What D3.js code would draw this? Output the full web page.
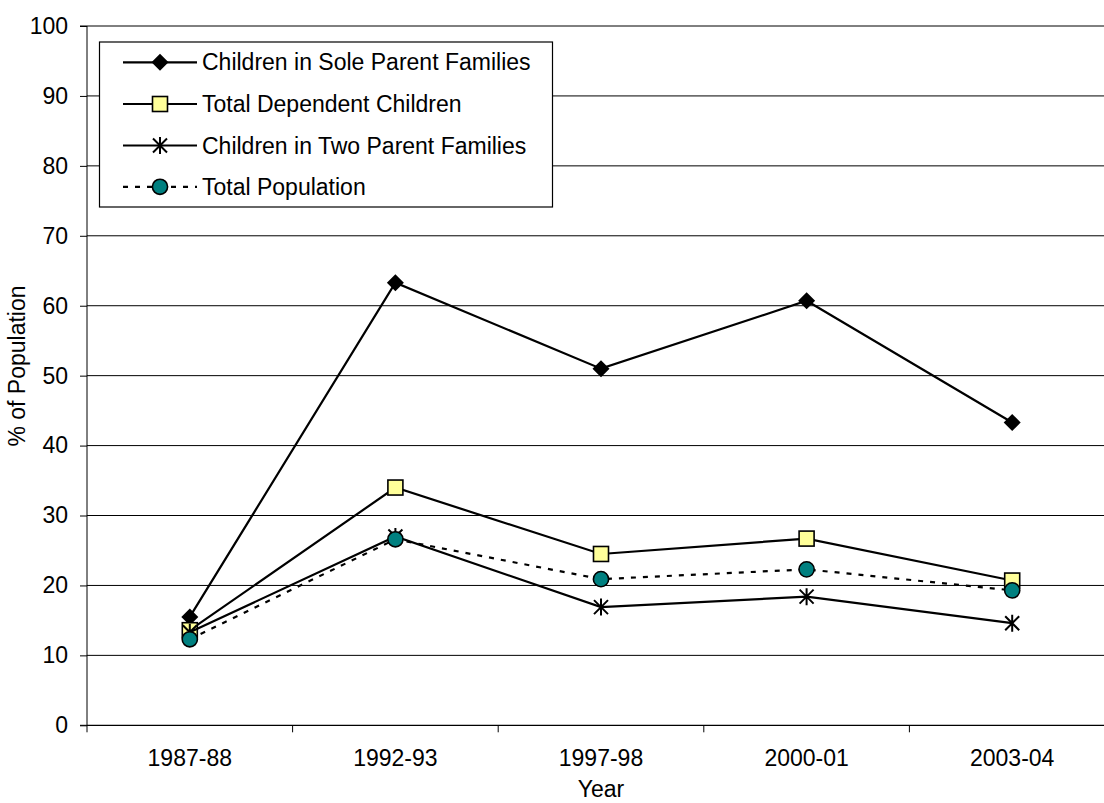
<!DOCTYPE html>
<html>
<head>
<meta charset="utf-8">
<script src="https://cdn.jsdelivr.net/npm/d3@7"></script>
<style>
  html, body { margin: 0; padding: 0; background: #fff; }
  svg { display: block; }
  text { font-family: "Liberation Sans", Arial, sans-serif; fill: #000; }
</style>
</head>
<body>
<svg id="chart" width="1104" height="803"></svg>
<script>
// Survey years (x categories)
const years = ["1987-88", "1992-93", "1997-98", "2000-01", "2003-04"];

// % of population in each group, per year
const soleParent     = [15.5, 63.3, 51.0, 60.7, 43.3];
const totalDependent = [13.6, 34.0, 24.5, 26.7, 20.7];
const twoParent      = [13.3, 27.0, 16.9, 18.4, 14.6];
const totalPop       = [12.3, 26.6, 20.9, 22.3, 19.3];

const seriesNames = [
  "Children in Sole Parent Families",
  "Total Dependent Children",
  "Children in Two Parent Families",
  "Total Population"
];

const yTicks = [0, 10, 20, 30, 40, 50, 60, 70, 80, 90, 100];

const series = [
  { name: seriesNames[0], values: soleParent,     marker: "diamond", dash: null },
  { name: seriesNames[1], values: totalDependent, marker: "square",  dash: null },
  { name: seriesNames[2], values: twoParent,      marker: "star",    dash: null },
  { name: seriesNames[3], values: totalPop,       marker: "circle",  dash: "5,7" }
];

const svg = d3.select("#chart");
const plot = { left: 87, right: 1115, top: 26, bottom: 725.3 };
const FONT = 23;

const x = d3.scaleBand().domain(years).range([plot.left, plot.right]).padding(0);
const y = d3.scaleLinear().domain([0, 100]).range([plot.bottom, plot.top]);
const cx = d => x(d) + x.bandwidth() / 2;

// Horizontal gridlines
svg.append("g").selectAll("line").data(yTicks.filter(t => t > 0)).join("line")
  .attr("x1", plot.left).attr("x2", plot.right)
  .attr("y1", d => y(d)).attr("y2", d => y(d))
  .attr("stroke", "#000").attr("stroke-width", 1);

// Y axis
const yAxis = d3.axisLeft(y).tickValues(yTicks).tickSize(7).tickPadding(12).tickFormat(d3.format("d"));
const gy = svg.append("g").attr("transform", `translate(${plot.left},0)`).call(yAxis);
gy.select(".domain").attr("stroke", "#000").attr("d", `M-7,${y(0)}H0V${y(100)}H-7`);
gy.selectAll(".tick line").attr("stroke", "#000");
gy.selectAll(".tick text").attr("font-size", FONT).attr("font-family", "Liberation Sans, Arial, sans-serif").attr("fill", "#000");

// X axis line with ticks between categories
svg.append("line").attr("x1", plot.left).attr("x2", plot.right)
  .attr("y1", y(0)).attr("y2", y(0)).attr("stroke", "#000").attr("stroke-width", 1.2);
const bounds = years.map(d => x(d)).concat([plot.right]);
svg.append("g").selectAll("line").data(bounds).join("line")
  .attr("x1", d => d).attr("x2", d => d)
  .attr("y1", y(0)).attr("y2", y(0) + 7)
  .attr("stroke", "#000").attr("stroke-width", 1);

// Category labels
svg.append("g").selectAll("text").data(years).join("text")
  .attr("x", d => cx(d)).attr("y", 766)
  .attr("text-anchor", "middle").attr("font-size", FONT)
  .text(d => d);

// Axis titles
svg.append("text").attr("x", (plot.left + plot.right) / 2).attr("y", 797)
  .attr("text-anchor", "middle").attr("font-size", FONT).text("Year");
svg.append("text").attr("transform", "translate(25,366) rotate(-90)")
  .attr("text-anchor", "middle").attr("font-size", FONT).text("% of Population");

// Marker drawing
function drawMarker(g, type) {
  if (type === "diamond") {
    g.append("path").attr("d", "M0,-8.5L8.5,0L0,8.5L-8.5,0Z").attr("fill", "#000");
  } else if (type === "square") {
    g.append("rect").attr("x", -7.5).attr("y", -7.5).attr("width", 15).attr("height", 15)
      .attr("fill", "#FFFF99").attr("stroke", "#000").attr("stroke-width", 1.6);
  } else if (type === "star") {
    g.append("path").attr("d", "M-7,-7L7,7M7,-7L-7,7M0,-8.5V8.5")
      .attr("stroke", "#000").attr("stroke-width", 2).attr("fill", "none");
  } else if (type === "circle") {
    g.append("circle").attr("r", 7.6).attr("fill", "#008080")
      .attr("stroke", "#000").attr("stroke-width", 1.6);
  }
}

const line = d3.line().x((d, i) => cx(years[i])).y(d => y(d));

// Series lines and markers
series.forEach(s => {
  const g = svg.append("g");
  g.append("path").datum(s.values).attr("d", line)
    .attr("fill", "none").attr("stroke", "#000").attr("stroke-width", 2.2)
    .attr("stroke-dasharray", s.dash);
  s.values.forEach((v, i) => {
    const m = g.append("g").attr("transform", `translate(${cx(years[i])},${y(v)})`);
    drawMarker(m, s.marker);
  });
});

// Legend
const legend = svg.append("g");
legend.append("rect").attr("x", 99.5).attr("y", 42).attr("width", 453).attr("height", 165)
  .attr("fill", "#fff").attr("stroke", "#000").attr("stroke-width", 1.2);
const rowY = [62.3, 104, 145.5, 186.8];
series.forEach((s, i) => {
  const row = legend.append("g").attr("transform", `translate(0,${rowY[i]})`);
  row.append("line").attr("x1", 123).attr("x2", 197).attr("y1", 0).attr("y2", 0)
    .attr("stroke", "#000").attr("stroke-width", 2.2).attr("stroke-dasharray", s.dash);
  const m = row.append("g").attr("transform", "translate(160,0)");
  drawMarker(m, s.marker);
  row.append("text").attr("x", 202).attr("y", 8).attr("font-size", FONT).text(s.name);
});
</script>
</body>
</html>
